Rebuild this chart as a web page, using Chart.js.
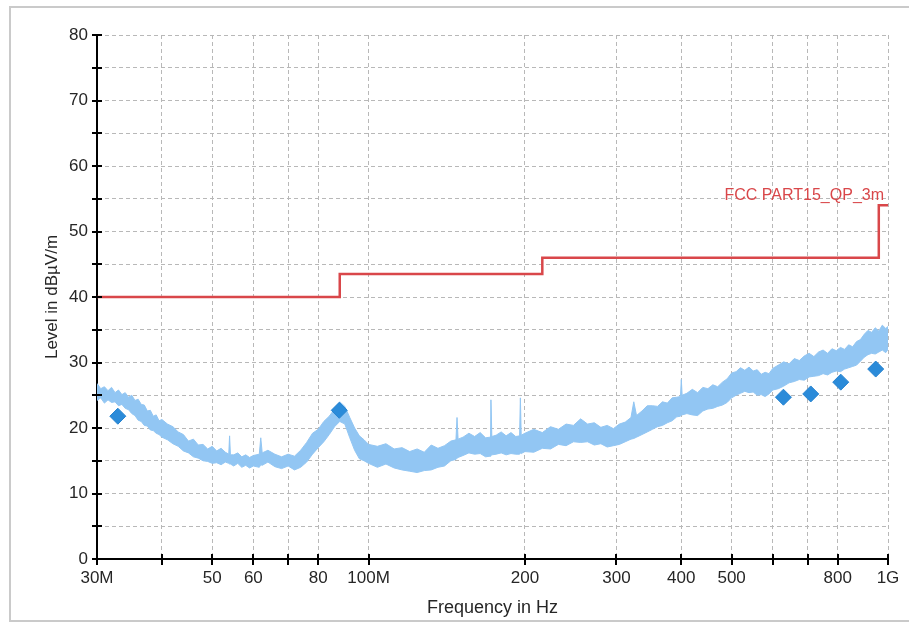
<!DOCTYPE html>
<html>
<head>
<meta charset="utf-8">
<title>Radiated emission 30M - 1G</title>
<script src="https://cdn.jsdelivr.net/npm/chart.js@4.4.1/dist/chart.umd.min.js"></script>
<style>
  body { margin: 0; background: #fff; }
  #wrap { width: 909px; height: 623px; }
</style>
</head>
<body>
<div id="wrap"><canvas id="emiChart" width="909" height="623"></canvas></div>
<script>
// 周波数 (MHz) と測定レベル (dBµV/m) - 上側/下側の包絡線
const specFreq = [
  30, 30.5, 31, 31.5, 32, 32.5, 33, 33.5, 34, 34.5, 35, 35.5, 36, 36.5, 37, 37.5, 38, 38.5, 39, 39.5, 40,
  41, 42, 43, 44, 45, 46, 47, 48, 49, 50, 51, 52, 53, 53.8, 54, 54.2, 55, 56, 57, 58, 59, 60,
  61.6, 62, 62.4, 64, 66, 68, 70, 72, 74, 76, 78, 80, 82, 84, 86, 88, 90, 92, 94, 96, 98, 100,
  104, 108, 112, 116, 120, 124, 128, 132, 136, 140, 144, 147.3, 148, 148.7, 152, 156, 160, 164, 168,
  171.3, 172, 172.7, 176, 180, 184, 188, 192, 195.3, 196, 196.7, 200,
  208, 216, 224, 232, 240, 248, 256, 264, 272, 280, 288, 296, 304, 312, 320, 324, 328, 336, 344,
  352, 360, 368, 376, 384, 392, 398.5, 400, 401.5,
  410, 420, 430, 440, 450, 460, 470, 480, 490, 500, 510, 520, 530, 540, 550, 560, 570, 580, 590, 600,
  615, 630, 645, 660, 675, 690, 705, 720, 735, 750, 765, 780, 795, 810, 825, 840, 855, 870, 885,
  900, 915, 930, 945, 960, 975, 990, 1000
];
const specHigh = [
  26.8, 26.0, 26.3, 25.7, 26.2, 25.4, 25.8, 25.1, 25.4, 24.7, 25.0, 24.2, 24.4, 23.6, 23.5, 22.6, 22.7, 21.8, 22.0, 21.1, 21.3,
  20.6, 20.2, 19.4, 19.0, 18.0, 18.3, 17.4, 17.5, 16.8, 17.2, 16.5, 16.9, 16.3, 16.0, 18.8, 15.9, 15.9, 16.2, 15.6, 15.9, 15.5, 15.8,
  16.0, 18.5, 16.2, 16.6, 16.0, 15.6, 16.0, 15.7, 16.6, 17.8, 19.2, 19.8, 21.0, 21.8, 22.9, 24.0, 23.3, 21.6, 20.0, 18.8, 18.2, 17.5,
  17.2, 17.6, 16.8, 17.0, 16.4, 16.8, 16.3, 17.4, 16.9, 17.3, 18.0, 18.2, 21.6, 18.3, 18.6, 19.2, 18.7, 19.3, 18.5,
  18.6, 24.3, 18.7, 18.9, 19.4, 18.8, 19.3, 18.7, 18.8, 24.6, 18.9, 19.2,
  19.8, 19.3, 20.2, 19.8, 20.6, 20.4, 21.4, 20.6, 20.8, 20.1, 20.4, 19.9, 20.6, 20.9, 21.6, 24.0, 21.9, 22.6, 23.4,
  23.4, 23.3, 24.0, 23.8, 24.6, 24.7, 24.8, 27.4, 25.0,
  25.3, 25.9, 25.4, 26.2, 26.0, 26.6, 26.3, 27.0, 27.5, 28.4, 28.6, 29.2, 28.8, 29.3, 28.7, 28.9, 28.2, 28.5, 28.3, 29.1,
  29.6, 30.1, 29.8, 30.6, 30.3, 31.0, 31.4, 30.9, 31.6, 31.9, 31.4, 32.1, 31.8, 32.3, 32.0, 32.7, 32.4, 33.2, 33.5,
  34.3, 34.9, 34.6, 35.3, 34.8, 35.7, 35.2, 35.5
];
const specLow = [
  24.2, 24.6, 23.8, 24.3, 23.9, 24.0, 23.4, 23.6, 23.0, 22.8, 22.2, 21.9, 21.2, 21.0, 20.4, 20.3, 19.7, 19.6, 19.2, 19.0, 18.6,
  18.2, 17.6, 17.2, 16.5, 16.2, 15.6, 15.4, 15.0, 14.9, 14.6, 14.7, 14.4, 14.8, 14.6, 14.5, 14.5, 14.2, 14.6, 14.0, 14.3, 13.9, 14.2,
  14.0, 14.4, 14.3, 14.8, 14.1, 13.8, 14.2, 13.6, 14.0, 14.8, 16.0, 17.0, 17.9, 19.0, 20.2, 21.0, 20.6, 18.5, 16.6, 15.3, 15.0, 14.6,
  14.0, 14.5, 13.9, 13.6, 13.4, 13.2, 13.5, 13.6, 14.0, 14.2, 15.0, 15.2, 15.4, 15.5, 15.8, 16.2, 16.0, 16.1, 15.6,
  15.7, 15.8, 15.9, 16.0, 16.2, 15.9, 16.1, 16.0, 16.0, 16.2, 16.1, 16.4,
  16.3, 16.9, 16.8, 17.5, 17.3, 17.9, 17.8, 17.9, 17.4, 17.6, 17.1, 17.3, 17.5, 17.9, 18.3, 18.4, 18.6, 19.0, 19.4,
  19.8, 20.2, 20.4, 20.8, 21.1, 21.7, 21.8, 22.0, 22.0,
  22.2, 22.0, 21.9, 22.6, 22.9, 23.0, 23.3, 23.5, 23.9, 24.6, 25.0, 25.3, 25.6, 25.4, 25.5, 25.0, 25.1, 24.8, 25.2, 25.8,
  26.0, 26.4, 26.9, 27.1, 27.4, 27.3, 27.8, 27.9, 28.0, 28.3, 28.1, 28.5, 28.7, 28.6, 29.0, 29.2, 29.4, 29.6, 30.2,
  30.8, 31.2, 31.4, 31.3, 31.6, 31.9, 31.5, 32.0
];

// 準尖頭値 (QP) 測定点
const qpFreq = [32.9, 87.8, 629, 710, 811, 947];
const qpLevel = [21.8, 22.7, 24.7, 25.2, 27.0, 29.0];

// 限度値 FCC PART15 QP 3m
const limitName = "FCC PART15_QP_3m";
const limitFreq = [30, 88, 88, 216, 216, 960, 960, 1000];
const limitLevel = [40, 40, 43.5, 43.5, 46, 46, 54, 54];

// 軸の目盛り
const xTickValues = [30, 40, 50, 60, 70, 80, 100, 200, 300, 400, 500, 600, 700, 800, 1000];
const xTickLabels = ["30M", "", "50", "60", "", "80", "100M", "200", "300", "400", "500", "", "", "800", "1G"];
const yMin = 0;
const yMax = 80;
const yStep = 5;

const fontFamily = "'Liberation Sans', Arial, sans-serif";
const textColor = "#262626";

// x と y の配列を点の配列にする
function toPoints(xs, ys) {
    return xs.map((x, i) => ({ x: x, y: ys[i] }));
}

// 外枠と背景
const framePlugin = {
    id: 'frame',
    beforeDraw(chart) {
        const c = chart.ctx;
        c.save();
        c.fillStyle = '#fff';
        c.fillRect(0, 0, chart.width, chart.height);
        c.strokeStyle = '#cacaca';
        c.lineWidth = 2;
        c.beginPath();
        c.moveTo(chart.width, 7);
        c.lineTo(10, 7);
        c.lineTo(10, 621);
        c.lineTo(chart.width, 621);
        c.stroke();
        c.restore();
    }
};

// 軸をまたぐ目盛り線と限度値の名前
const marksPlugin = {
    id: 'marks',
    afterDraw(chart) {
        const c = chart.ctx;
        const xs = chart.scales.x;
        const ys = chart.scales.y;
        const area = chart.chartArea;
        c.save();
        c.strokeStyle = '#000';
        c.lineWidth = 2;
        c.beginPath();
        xs.ticks.forEach(t => {
            const px = Math.round(xs.getPixelForValue(t.value));
            c.moveTo(px, area.bottom - 5);
            c.lineTo(px, area.bottom + 6);
        });
        ys.ticks.forEach(t => {
            const py = Math.round(ys.getPixelForValue(t.value));
            c.moveTo(area.left - 5, py);
            c.lineTo(area.left + 5, py);
        });
        c.stroke();

        // 限度値ラベル
        const lastF = limitFreq[limitFreq.length - 1];
        const lastL = limitLevel[limitLevel.length - 1];
        c.fillStyle = '#d9474a';
        c.font = "16px " + fontFamily;
        c.textAlign = 'right';
        c.textBaseline = 'alphabetic';
        c.fillText(limitName, xs.getPixelForValue(lastF) - 4, ys.getPixelForValue(lastL) - 5);
        c.restore();
    }
};

const ctx = document.getElementById('emiChart');
const chart = new Chart(ctx, {
    type: 'scatter',
    data: {
        datasets: [
            {
                label: 'QP',
                data: toPoints(qpFreq, qpLevel),
                pointStyle: 'rectRot',
                pointRadius: 8,
                backgroundColor: '#2b8bd9',
                borderColor: '#2683d0',
                borderWidth: 1
            },
            {
                label: limitName,
                data: toPoints(limitFreq, limitLevel),
                showLine: true,
                borderColor: '#d9474a',
                borderWidth: 2.5,
                pointRadius: 0,
                fill: false
            },
            {
                label: 'Peak high',
                data: toPoints(specFreq, specHigh),
                showLine: true,
                borderColor: '#92c6f3',
                borderWidth: 1,
                pointRadius: 0,
                fill: false
            },
            {
                label: 'Peak low',
                data: toPoints(specFreq, specLow),
                showLine: true,
                borderColor: '#92c6f3',
                backgroundColor: '#92c6f3',
                borderWidth: 1,
                pointRadius: 0,
                fill: '-1'
            }
        ]
    },
    options: {
        responsive: false,
        animation: false,
        events: [],
        layout: { padding: { top: 35, right: 21, bottom: 0, left: 0 } },
        plugins: {
            legend: { display: false },
            tooltip: { enabled: false }
        },
        scales: {
            x: {
                type: 'logarithmic',
                min: 30,
                max: 1000,
                afterFit(scale) { scale.height = 64; },
                afterBuildTicks(scale) {
                    scale.ticks = xTickValues.map(v => ({ value: v }));
                },
                ticks: {
                    autoSkip: false,
                    maxRotation: 0,
                    padding: 9,
                    color: textColor,
                    font: { family: fontFamily, size: 17 },
                    callback: function(value) {
                        const i = xTickValues.indexOf(value);
                        return i >= 0 ? xTickLabels[i] : '';
                    }
                },
                grid: { color: '#b8b8b8', lineWidth: 1, drawTicks: false },
                border: { display: true, color: '#000', width: 2, dash: [4, 3] },
                title: {
                    display: true,
                    text: 'Frequency in Hz',
                    color: textColor,
                    font: { family: fontFamily, size: 18 },
                    padding: { top: 0, bottom: 4 }
                }
            },
            y: {
                min: yMin,
                max: yMax,
                afterFit(scale) { scale.width = 97; },
                ticks: {
                    stepSize: yStep,
                    padding: 9,
                    color: textColor,
                    font: { family: fontFamily, size: 17 },
                    callback: function(value) {
                        return value % 10 === 0 ? value : '';
                    }
                },
                grid: { color: '#b8b8b8', lineWidth: 1, drawTicks: false },
                border: { display: true, color: '#000', width: 2, dash: [4, 3] },
                title: {
                    display: true,
                    text: 'Level in dBµV/m',
                    color: textColor,
                    font: { family: fontFamily, size: 17 },
                    padding: { top: 42, bottom: 0 }
                }
            }
        }
    },
    plugins: [framePlugin, marksPlugin]
});
</script>
</body>
</html>
